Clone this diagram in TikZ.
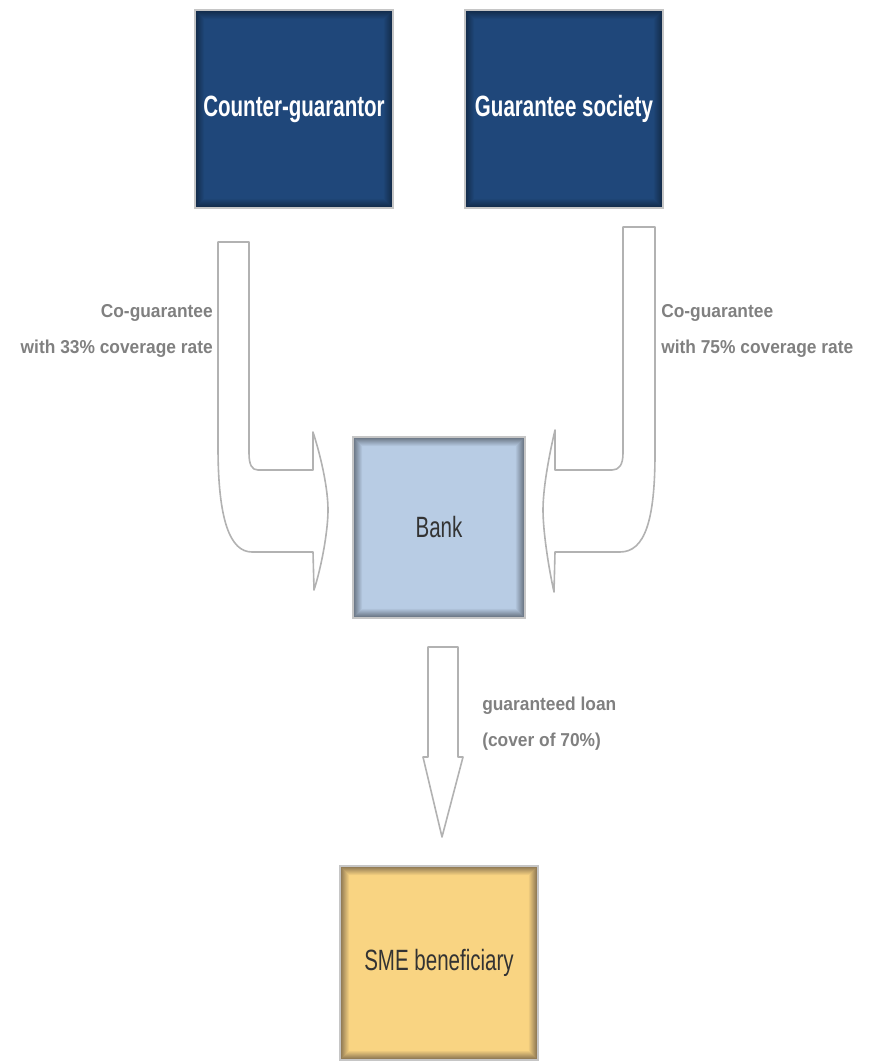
\documentclass[tikz,border=0pt]{standalone}
\usepackage{fontspec}
\usepackage{tikz}
\usepackage{xcolor}
\setmainfont{Liberation Sans}
\newfontfamily\narrowfont[FakeStretch=0.7]{Liberation Sans}
\newfontfamily\labelfont[FakeStretch=0.93]{Liberation Sans}
\definecolor{darkblue}{HTML}{1F477A}
\definecolor{darkblueedge}{HTML}{122A48}
\definecolor{bankblue}{HTML}{B8CCE4}
\definecolor{bankedge}{HTML}{66717F}
\definecolor{smeyellow}{HTML}{F9D482}
\definecolor{smeedge}{HTML}{877250}
\definecolor{labelgray}{HTML}{808080}

\begin{document}
\begin{tikzpicture}[x=0.75pt, y=-0.75pt,
			box/.style 2 args={draw=gray!45, line width=1.5pt, fill=#1, inner sep=0pt,
				font=\narrowfont\fontsize{22}{26}\selectfont,
				path picture={
					\foreach \i [evaluate=\i as \p using int(100-\i*11)] in {0,...,9}
						\draw[line width=0.8pt, draw=#2!\p!#1]
							([shift={(\i*0.75pt+0.4pt,\i*0.75pt+0.4pt)}]path picture bounding box.south west)
							rectangle ([shift={(-\i*0.75pt-0.4pt,-\i*0.75pt-0.4pt)}]path picture bounding box.north east);
				}},
			blockarrow/.style={draw=gray!60, fill=white, line width=1.2pt, line join=round},
			flowlabel/.style={text=labelgray, font=\labelfont\bfseries\fontsize{14}{27}\selectfont, inner sep=0pt}
			]
			\useasboundingbox (0,0) rectangle (879,1062);
			
			\node[box={darkblue}{darkblueedge}, minimum width=148.5pt, minimum height=148.5pt, text=white, font=\narrowfont\bfseries\fontsize{22}{26}\selectfont] (cg) at (294,109) {Counter-guarantor};
			\node[box={darkblue}{darkblueedge}, minimum width=148.5pt, minimum height=148.5pt, text=white, font=\narrowfont\bfseries\fontsize{22}{26}\selectfont] (gs) at (564,109) {Guarantee society};
			\node[box={bankblue}{bankedge}, minimum width=129pt, minimum height=135.75pt, text=black!80] (bank) at (439,527.5) {Bank};
			\node[box={smeyellow}{smeedge}, minimum width=148.5pt, minimum height=145.5pt, text=black!80] (sme) at (439,963) {SME beneficiary};
			
			% bent arrows into the bank
			\draw[blockarrow] (218,242) -- (249,242) -- (249,453)
				.. controls (249,465) and (252,470) .. (258,470) -- (313,470) -- (313,432)
				.. controls (322,460) and (328,490) .. (328,510)
				.. controls (328,530) and (322,565) .. (314,590) -- (313,552) -- (252,552)
				.. controls (230,552) and (218,520) .. (218,447) -- cycle;
			\draw[blockarrow] (655,227) -- (623,227) -- (623,453)
				.. controls (623,465) and (619,470) .. (612,470) -- (555,470) -- (555,430)
				.. controls (548,460) and (543,490) .. (543,510)
				.. controls (543,530) and (548,565) .. (554,592) -- (555,552) -- (620,552)
				.. controls (645,552) and (655,520) .. (655,453) -- cycle;
			
			% arrow to the beneficiary
			\draw[blockarrow] (428,647) -- (458,647) -- (458,757) -- (463,757) -- (442,837)
				-- (423,757) -- (428,757) -- cycle;
			
			\node[flowlabel, align=right, anchor=east] (lcg) at (213,331) {Co-guarantee\\with 33\% coverage rate};
			\node[flowlabel, align=left, anchor=west] (lgs) at (661,331) {Co-guarantee\\with 75\% coverage rate};
			\node[flowlabel, align=left, anchor=west] (lbank) at (482,724) {guaranteed loan\\(cover of 70\%)};
		\end{tikzpicture}
\end{document}
